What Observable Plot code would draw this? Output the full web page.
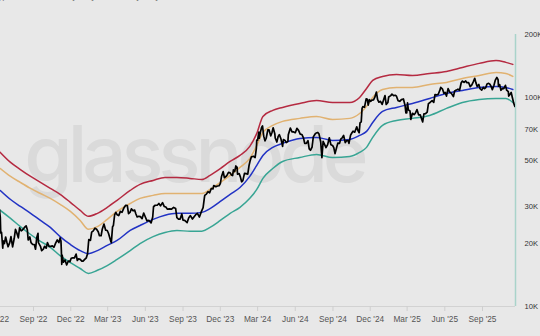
<!DOCTYPE html>
<html><head><meta charset="utf-8">
<script src="https://cdn.jsdelivr.net/npm/d3@7"></script>
<script src="https://cdn.jsdelivr.net/npm/@observablehq/plot@0.6"></script>
<style>
html,body{margin:0;padding:0;background:#e8e8e8;width:540px;height:336px;overflow:hidden;font-family:"Liberation Sans",Arial,sans-serif;}
#wrap{position:relative;width:540px;height:336px;}
#legend{position:absolute;top:-8px;left:-14px;font-size:8px;line-height:10px;color:#666;white-space:nowrap;}
#legend span{margin-right:12px;}
#chart{position:absolute;top:0;left:0;}
.wm text{letter-spacing:-5px;}
</style></head><body>
<div id="wrap"><div id="legend"><span>(Key)</span><span>— Lower Band [USD]</span><span>— Price [USD]</span></div><div id="chart"></div></div>
<script>
// band sample dates
const bandDates = ["2022-06-12","2022-07-07","2022-07-31","2022-08-25","2022-09-18","2022-10-12","2022-11-05","2022-11-30","2022-12-24","2023-01-13","2023-02-04","2023-02-28","2023-03-24","2023-04-25","2023-05-19","2023-06-20","2023-07-19","2023-08-17","2023-09-18","2023-10-17","2023-11-06","2023-12-01","2023-12-25","2024-01-18","2024-02-11","2024-02-28","2024-03-14","2024-04-07","2024-05-01","2024-06-12","2024-07-23","2024-08-31","2024-10-12","2024-11-05","2024-11-22","2024-12-07","2024-12-31","2025-02-03","2025-03-14","2025-04-25","2025-06-05","2025-07-14","2025-08-24","2025-10-04","2025-10-28","2025-11-14"];
// values in thousand USD
const upperBand = [54.6,48.9,45.2,41.9,39.2,36.7,34.4,31.5,28.8,27.0,27.9,29.8,32.2,35.9,38.4,40.1,41.4,41.4,41.0,40.5,42.4,45.7,49.4,52.8,58.3,67.3,81.1,86.7,89.6,93.6,96.7,94.6,94.6,100.0,110.4,120.6,126.0,128.8,127.4,130.2,133.2,139.2,145.5,150.3,147.1,143.9];
const highBand  = [45.7,41.9,39.2,36.7,34.7,32.9,30.8,28.5,25.8,23.4,24.1,26.1,28.5,31.1,32.9,34.0,34.7,34.7,34.7,34.7,36.3,39.2,42.4,46.3,51.1,58.9,68.0,73.5,76.8,79.4,81.1,78.5,79.4,83.8,90.6,100.0,109.2,111.6,111.6,115.4,118.0,123.3,127.4,131.7,130.2,126.0];
const midBand   = [35.9,32.5,30.1,27.9,25.8,23.9,21.6,19.8,18.5,17.9,18.5,19.6,20.7,23.1,24.4,26.1,27.3,27.9,27.9,28.2,29.4,31.8,34.4,37.1,41.9,47.3,52.8,57.7,60.3,63.7,64.4,62.3,63.0,65.8,68.8,75.9,85.7,89.6,93.6,98.9,104.5,108.0,111.6,112.9,111.6,109.2];
const lowBand   = [28.8,26.4,24.1,22.1,20.5,19.2,17.5,16.2,15.2,14.4,14.9,15.7,16.8,18.5,20.0,21.6,22.6,23.1,22.9,22.9,23.9,25.8,27.9,29.8,32.9,36.3,41.0,45.7,49.4,51.6,53.4,51.6,52.2,54.6,57.7,64.4,73.5,77.6,79.4,82.0,88.6,94.6,97.8,98.9,98.9,94.6];

const priceDates = ["2022-06-10","2022-06-12","2022-06-13","2022-06-15","2022-06-18","2022-06-19","2022-06-22","2022-06-25","2022-06-28","2022-07-01","2022-07-05","2022-07-08","2022-07-12","2022-07-16","2022-07-19","2022-07-22","2022-07-26","2022-07-29","2022-08-02","2022-08-05","2022-08-10","2022-08-14","2022-08-17","2022-08-19","2022-08-23","2022-08-26","2022-08-30","2022-09-03","2022-09-06","2022-09-09","2022-09-12","2022-09-13","2022-09-18","2022-09-21","2022-09-25","2022-09-28","2022-10-02","2022-10-05","2022-10-09","2022-10-13","2022-10-17","2022-10-21","2022-10-25","2022-10-29","2022-11-02","2022-11-05","2022-11-07","2022-11-08","2022-11-09","2022-11-10","2022-11-13","2022-11-17","2022-11-21","2022-11-25","2022-11-29","2022-12-02","2022-12-06","2022-12-10","2022-12-14","2022-12-17","2022-12-20","2022-12-24","2022-12-28","2022-12-31",
"2023-01-04","2023-01-08","2023-01-11","2023-01-13","2023-01-14","2023-01-18","2023-01-21","2023-01-25","2023-01-29","2023-02-02","2023-02-06","2023-02-09","2023-02-13","2023-02-16","2023-02-20","2023-02-24","2023-02-28","2023-03-03","2023-03-09","2023-03-10","2023-03-13","2023-03-15","2023-03-18","2023-03-21","2023-03-24","2023-03-28","2023-04-01","2023-04-05","2023-04-10","2023-04-14","2023-04-18","2023-04-21","2023-04-25","2023-04-28","2023-05-02","2023-05-06","2023-05-09","2023-05-12","2023-05-16","2023-05-20","2023-05-24","2023-05-28","2023-06-01","2023-06-05","2023-06-10","2023-06-15","2023-06-19","2023-06-21","2023-06-25","2023-06-30","2023-07-04","2023-07-08","2023-07-13","2023-07-17","2023-07-21","2023-07-25","2023-07-30","2023-08-04","2023-08-09","2023-08-14","2023-08-17","2023-08-21","2023-08-25","2023-08-29","2023-09-01","2023-09-05","2023-09-11","2023-09-15","2023-09-19","2023-09-24","2023-09-29","2023-10-02","2023-10-06","2023-10-11","2023-10-16","2023-10-20","2023-10-23","2023-10-24","2023-10-28","2023-11-01","2023-11-05","2023-11-09","2023-11-13","2023-11-15","2023-11-20","2023-11-24","2023-11-28","2023-12-01","2023-12-04","2023-12-08","2023-12-11","2023-12-15","2023-12-18","2023-12-21","2023-12-25","2023-12-28","2023-12-31",
"2024-01-02","2024-01-05","2024-01-08","2024-01-11","2024-01-12","2024-01-16","2024-01-19","2024-01-22","2024-01-25","2024-01-29","2024-02-02","2024-02-06","2024-02-09","2024-02-12","2024-02-15","2024-02-20","2024-02-24","2024-02-27","2024-02-28","2024-03-01","2024-03-04","2024-03-05","2024-03-08","2024-03-11","2024-03-13","2024-03-16","2024-03-19","2024-03-22","2024-03-26","2024-03-29","2024-04-02","2024-04-05","2024-04-08","2024-04-12","2024-04-13","2024-04-17","2024-04-20","2024-04-23","2024-04-27","2024-05-01","2024-05-03","2024-05-07","2024-05-10","2024-05-14","2024-05-15","2024-05-20","2024-05-24","2024-05-28","2024-06-01","2024-06-05","2024-06-09","2024-06-13","2024-06-17","2024-06-21","2024-06-24","2024-06-28","2024-07-02","2024-07-05","2024-07-08","2024-07-12","2024-07-15","2024-07-19","2024-07-22","2024-07-26","2024-07-29","2024-08-02","2024-08-05","2024-08-08","2024-08-12","2024-08-15","2024-08-19","2024-08-23","2024-08-27","2024-08-31","2024-09-03","2024-09-06","2024-09-10","2024-09-13","2024-09-17","2024-09-20","2024-09-24","2024-09-27","2024-10-01","2024-10-04","2024-10-08","2024-10-10","2024-10-14","2024-10-17","2024-10-20","2024-10-24","2024-10-29","2024-11-01","2024-11-04","2024-11-06","2024-11-09","2024-11-11","2024-11-13","2024-11-17","2024-11-21","2024-11-24","2024-11-26","2024-11-29","2024-12-02","2024-12-05","2024-12-09","2024-12-12","2024-12-16","2024-12-19","2024-12-22","2024-12-26","2024-12-30",
"2025-01-03","2025-01-06","2025-01-09","2025-01-13","2025-01-15","2025-01-20","2025-01-23","2025-01-27","2025-01-31","2025-02-03","2025-02-07","2025-02-11","2025-02-15","2025-02-20","2025-02-24","2025-02-26","2025-02-28","2025-03-02","2025-03-04","2025-03-08","2025-03-10","2025-03-14","2025-03-18","2025-03-21","2025-03-25","2025-03-29","2025-04-02","2025-04-06","2025-04-08","2025-04-11","2025-04-15","2025-04-19","2025-04-22","2025-04-26","2025-05-01","2025-05-05","2025-05-08","2025-05-12","2025-05-16","2025-05-21","2025-05-22","2025-05-26","2025-05-30","2025-06-02","2025-06-05","2025-06-09","2025-06-13","2025-06-17","2025-06-22","2025-06-25","2025-06-29","2025-07-03","2025-07-07","2025-07-11","2025-07-14","2025-07-18","2025-07-22","2025-07-25","2025-07-29","2025-08-02","2025-08-06","2025-08-10","2025-08-13","2025-08-16","2025-08-19","2025-08-23","2025-08-26","2025-08-30","2025-09-03","2025-09-06","2025-09-09","2025-09-12","2025-09-16","2025-09-19","2025-09-22","2025-09-25","2025-09-29","2025-10-02","2025-10-06","2025-10-09","2025-10-10","2025-10-13","2025-10-16","2025-10-20","2025-10-23","2025-10-27","2025-10-30","2025-11-03","2025-11-04","2025-11-07","2025-11-10","2025-11-13","2025-11-16","2025-11-19"];
const priceK = [29.1,26.6,22.5,22.6,19.0,20.6,20.0,21.5,20.3,19.3,20.2,21.6,19.3,21.2,23.4,22.6,21.3,23.8,23.0,23.2,23.9,24.3,23.3,20.8,21.5,20.2,19.8,19.8,18.8,21.4,22.4,20.2,19.4,18.5,18.8,19.4,19.0,20.2,19.4,19.4,19.5,19.2,20.1,20.8,20.2,21.3,20.6,18.5,15.9,17.6,16.3,16.7,15.8,16.5,16.4,17.0,17.1,17.1,17.8,16.6,16.9,16.8,16.5,16.5,
16.8,17.1,17.9,19.9,20.9,20.7,22.7,23.0,23.7,23.4,22.8,21.8,21.8,23.5,24.8,23.2,23.1,22.4,20.4,20.2,24.1,24.4,27.4,28.2,27.5,27.2,28.5,28.2,29.7,30.5,30.4,27.8,28.3,29.3,28.7,28.9,27.7,26.8,27.0,26.9,26.3,28.0,26.8,25.7,25.8,25.1,26.8,30.0,30.5,30.5,31.1,30.3,31.4,30.1,29.9,29.2,29.3,29.2,29.8,29.4,26.6,26.2,26.2,27.7,25.9,25.8,25.2,26.6,27.2,26.2,27.0,27.5,27.9,26.8,28.5,29.7,33.0,34.0,34.5,35.4,35.0,36.7,36.5,37.9,37.4,37.7,37.8,38.7,41.9,44.2,41.3,41.9,42.7,43.8,43.6,42.6,42.3,
45.0,44.2,47.0,46.3,42.9,43.2,41.7,39.5,40.0,43.3,43.2,43.0,47.1,50.0,52.0,52.3,51.6,57.0,62.5,62.4,68.3,63.8,68.3,72.1,73.1,65.3,62.0,63.8,70.0,69.9,65.5,67.8,71.6,67.1,64.0,61.2,64.9,66.4,63.4,58.3,62.9,62.3,60.8,61.6,66.3,71.4,68.5,68.4,67.8,71.1,69.6,66.8,66.5,64.1,60.3,60.3,62.1,56.7,55.9,57.9,64.8,66.7,67.6,68.0,66.8,61.4,51.5,61.7,59.3,57.6,59.5,64.1,59.4,58.9,57.5,53.9,57.7,60.5,60.3,63.2,64.3,65.8,60.8,62.1,62.1,60.3,66.0,67.6,69.0,68.2,72.3,69.5,67.8,75.6,76.5,88.7,90.4,89.8,98.4,97.9,91.9,97.5,95.8,97.0,97.4,100.0,106.1,97.5,94.9,95.8,92.6,
98.1,102.1,92.5,94.5,100.5,102.0,103.7,102.1,102.4,101.4,96.5,95.8,97.6,98.3,91.4,84.3,84.4,94.2,87.2,86.1,78.5,84.0,82.7,84.0,87.5,82.6,82.5,78.3,76.3,83.4,83.6,85.1,93.4,94.6,96.5,94.7,103.2,102.8,103.5,109.6,111.7,110.0,104.6,105.7,101.5,110.2,106.0,104.6,101.0,107.4,108.4,109.6,108.2,117.5,119.8,117.9,119.9,117.6,117.9,112.6,114.9,119.3,123.4,117.4,112.9,115.4,110.1,108.4,111.7,110.2,111.5,115.9,116.8,115.7,112.8,109.0,114.3,120.6,124.7,121.6,113.2,115.2,108.2,110.5,110.1,114.2,108.3,106.5,101.5,103.4,105.7,99.7,94.2,90.5];

const xTicks = ["2022-06-01","2022-09-01","2022-12-01","2023-03-01","2023-06-01","2023-09-01","2023-12-01","2024-03-01","2024-06-01","2024-09-01","2024-12-01","2025-03-01","2025-06-01","2025-09-01"];
const yTicks = [10000,20000,30000,50000,70000,100000,200000];
const xStart = "2022-06-12T11:00Z", xEnd = "2025-11-20T13:00Z";

const bands = bandDates.map((d,i)=>({date:new Date(d), upper:upperBand[i]*1000, high:highBand[i]*1000, mid:midBand[i]*1000, low:lowBand[i]*1000}));
const prices = priceDates.map((d,i)=>({date:new Date(d), price:priceK[i]*1000}));
const fmt = d3.utcFormat("%b '%y");

const chart = Plot.plot({
  width:540, height:336, marginLeft:0, marginRight:25, marginTop:34, marginBottom:30,
  style:{background:"transparent", fontFamily:"'Liberation Sans', Arial, sans-serif", fontSize:"8px", color:"#444", overflow:"visible"},
  x:{type:"utc", domain:[new Date(xStart), new Date(xEnd)]},
  y:{type:"log", domain:[10000,200000]},
  marks:[
    Plot.text(["glassnode"], {frameAnchor:"middle", dx:-64, dy:-13, fontSize:78, fontWeight:500, fill:"#dadada", fontFamily:"Inter, sans-serif", className:"wm"}),
    Plot.ruleY([10000], {stroke:"#d2d2d2", strokeWidth:1}),
    Plot.axisX(xTicks.map(d=>new Date(d)), {tickFormat:fmt, tickSize:5, tickPadding:5, stroke:"#cfcfcf", fill:"#555", fontSize:8.3, label:null}),
    Plot.axisY(yTicks, {anchor:"right", tickSize:0, tickPadding:9, tickFormat:d=>d/1000+"K", fill:"#333", fontSize:7.6, label:null}),
    Plot.ruleX([new Date(xEnd)], {y1:10000, y2:200000, stroke:"#a9d3ca", strokeWidth:1.5}),
    Plot.line(bands, {x:"date", y:"upper", stroke:"#b52a41", strokeWidth:1.5, curve:"monotone-x", clip:true}),
    Plot.line(bands, {x:"date", y:"high", stroke:"#e1b271", strokeWidth:1.5, curve:"monotone-x", clip:true}),
    Plot.line(bands, {x:"date", y:"mid", stroke:"#2233c4", strokeWidth:1.5, curve:"monotone-x", clip:true}),
    Plot.line(bands, {x:"date", y:"low", stroke:"#38a594", strokeWidth:1.5, curve:"monotone-x", clip:true}),
    Plot.line(prices, {x:"date", y:"price", stroke:"#000", strokeWidth:1.7, clip:true})
  ]
});
document.getElementById("chart").appendChild(chart);
</script>
</body></html>
